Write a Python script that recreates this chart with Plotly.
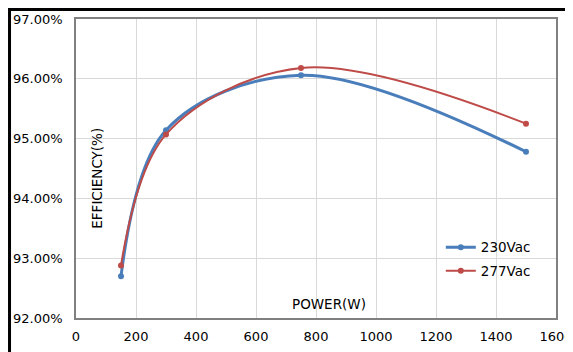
import plotly.graph_objects as go

power = [150, 300, 750, 1500]
eff_230 = [92.70, 95.14, 96.06, 94.78]
eff_277 = [92.88, 95.07, 96.18, 95.25]
series_names = ["230Vac", "277Vac"]
x_ticks = [0, 200, 400, 600, 800, 1000, 1200, 1400, 1600]
y_ticks = [92, 93, 94, 95, 96, 97]
y_tick_text = [f"{v:.2f}%" for v in y_ticks]

BLUE = "#4A7EBB"
RED = "#BE4B48"
FONT = "DejaVu Sans"

fig = go.Figure()
for name, vals, col, grp, lw in [(series_names[0], eff_230, BLUE, "a", 3), (series_names[1], eff_277, RED, "b", 2)]:
    fig.add_trace(go.Scatter(
        x=power, y=vals, name=name, mode="lines+markers",
        line=dict(color=col, width=lw, shape="spline", smoothing=1.0),
        marker=dict(color=col, size=6),
        legendgroup=grp,
    ))

# page has an 8px body margin, so the figure starts at (8, 8)
fig.update_layout(
    width=565, height=344,
    margin=dict(l=68, r=17, t=11, b=34),
    paper_bgcolor="white", plot_bgcolor="white",
    font=dict(family=FONT, size=13, color="black"),
    showlegend=True,
    legend=dict(x=0.76, y=0.288, xanchor="left", yanchor="top",
                bgcolor="rgba(0,0,0,0)", font=dict(size=13.5, family=FONT),
                traceorder="grouped", tracegroupgap=3, itemwidth=30),
    xaxis=dict(range=[0, 1600], tickvals=x_ticks, ticks="", showgrid=True,
               gridcolor="#d9d9d9", gridwidth=1, zeroline=False, automargin=False,
               showline=True, linecolor="#808080", linewidth=1.5, mirror=True,
               tickfont=dict(size=13), ticklabelstandoff=6),
    yaxis=dict(range=[92, 97], tickvals=y_ticks, ticktext=y_tick_text, ticks="", showgrid=True,
               gridcolor="#d9d9d9", gridwidth=1, zeroline=False, automargin=False,
               showline=True, linecolor="#808080", linewidth=1.5, mirror=True,
               tickfont=dict(size=13), ticklabelstandoff=9),
)

fig.add_annotation(text="EFFICIENCY(%)", x=70, y=94.33, xref="x", yref="y",
                   textangle=-90, showarrow=False, font=dict(size=13.5, family=FONT))
fig.add_annotation(text="POWER(W)", x=843, y=92.23, xref="x", yref="y",
                   showarrow=False, font=dict(size=13.5, family=FONT))

# outer frame lines (left and top)
fig.add_shape(type="line", xref="paper", yref="paper", x0=-0.1385, x1=-0.1385, y0=1.04, y1=-0.2,
              line=dict(color="black", width=3))
fig.add_shape(type="line", xref="paper", yref="paper", x0=-0.142, x1=1.1, y0=1.0318, y1=1.0318,
              line=dict(color="black", width=3))

fig.write_html("out.html")
